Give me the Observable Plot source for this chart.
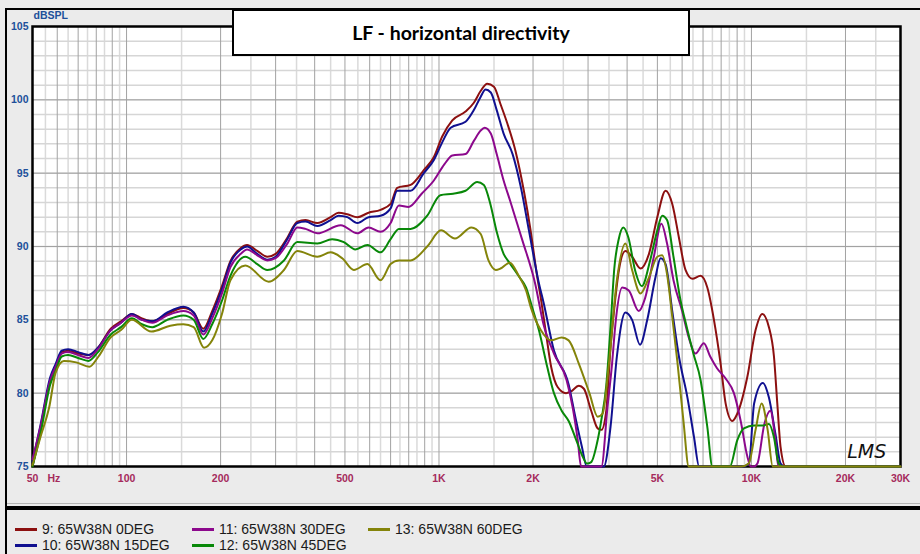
<!DOCTYPE html>
<html><head><meta charset="utf-8">
<script src="https://cdn.jsdelivr.net/npm/d3@7"></script>
<script src="https://cdn.jsdelivr.net/npm/@observablehq/plot@0.6"></script>
<style>
body{margin:0;background:#ebebeb;}
#wrap{position:relative;width:920px;height:554px;background:#ebebeb;overflow:hidden;font-family:"Liberation Sans",Arial,sans-serif;}
#chart{position:absolute;left:0;top:0;}
.bk{position:absolute;background:#000;}
#title{position:absolute;left:232px;top:9px;width:458px;height:47px;box-sizing:border-box;border:2px solid #000;background:#fff;
 font-family:Lato,"Open Sans",sans-serif;font-weight:bold;font-size:19.5px;line-height:43px;text-align:center;color:#000;}
.lg{position:absolute;font-size:14px;color:#1a1a1a;white-space:nowrap;line-height:16px;}
.lg span{display:inline-block;width:22px;height:2.5px;vertical-align:middle;margin-right:5px;position:relative;top:-1px;}
</style></head><body>
<div id="wrap">
<div id="chart"></div>
<div class="bk" style="left:5px;top:8px;width:2px;height:546px"></div>
<div class="bk" style="left:5px;top:8px;width:915px;height:2px"></div>
<div style="position:absolute;left:7px;top:503px;width:913px;height:1px;background:#b5b5b5"></div>
<div class="bk" style="left:5px;top:506px;width:915px;height:4px"></div>
<div id="title"></div>
<div id="legend"></div>
</div>
<script>
// ---- data: [frequency Hz, level dBSPL] ----
const seriesNames = ["9: 65W38N 0DEG","10: 65W38N 15DEG","11: 65W38N 30DEG","12: 65W38N 45DEG","13: 65W38N 60DEG"];
const seriesColors = ["#8c1010","#101090","#8c088c","#088808","#84840a"];

const deg0 = [[50,75],[53,77.5],[57,80.9],[59.3,81.8],[62,82.8],[65,82.9],[70,82.7],[75.5,82.6],[81,83.1],[89,84.4],[96,84.9],[104,85.4],[112,85.1],[121,84.9],[135,85.4],[152,85.8],[164,85.5],[176,84.4],[188,85.6],[202,87.3],[215,89.0],[232,89.9],[243,90.1],[262,89.7],[282,89.3],[300,89.5],[327,90.6],[352,91.7],[374,91.8],[408,91.6],[450,92.0],[477,92.3],[509,92.2],[548,92.0],[595,92.3],[650,92.5],[700,92.9],[735,94.0],[811,94.2],[894,95.2],[963,96.1],[1024,97.5],[1103,98.6],[1216,99.2],[1293,99.8],[1359,100.6],[1427,101.1],[1499,100.9],[1574,99.7],[1654,98.4],[1758,96.5],[1869,93.8],[1964,91.1],[2060,88.0],[2117,86.5],[2200,84.1],[2285,81.8],[2400,80.4],[2550,80.0],[2636,80.1],[2804,80.5],[2909,80.3],[3070,78.8],[3220,77.6],[3310,77.5],[3430,78.8],[3540,83.1],[3640,85.8],[3766,88.4],[3950,89.7],[4150,89.3],[4416,88.5],[4700,89.5],[4997,92.0],[5312,93.8],[5580,92.9],[5861,90.6],[6152,88.4],[6466,87.8],[6874,88.0],[7224,87.2],[7586,85.0],[7969,82.0],[8268,79.3],[8686,78.1],[9011,78.6],[9700,81.1],[10310,84.3],[10833,85.4],[11376,84.5],[11806,82.5],[12100,79.3],[12400,76.3],[12866,75],[13500,73],[30000,73]];

const deg15 = [[50,75.3],[53,77.8],[57,81.1],[59.3,82.0],[62,82.9],[65,83.0],[70,82.8],[75.5,82.6],[81,83.1],[89,84.3],[96,84.8],[104,85.4],[112,85.0],[121,84.9],[135,85.5],[152,85.9],[164,85.5],[176,84.2],[188,85.4],[202,87.1],[215,88.9],[232,89.8],[243,90.0],[262,89.5],[282,89.1],[300,89.3],[327,90.5],[352,91.6],[374,91.7],[408,91.4],[450,91.8],[477,92.1],[509,92.0],[548,91.6],[595,92.0],[650,92.1],[700,92.6],[735,93.8],[811,93.8],[894,95.0],[963,95.9],[1024,97.1],[1090,98.1],[1216,98.5],[1293,99.3],[1359,100.2],[1410,100.7],[1465,100.5],[1530,99.3],[1610,97.7],[1720,96.3],[1830,94.0],[1940,91.1],[2088,87.5],[2160,86.2],[2333,82.9],[2600,80.6],[2730,78.4],[2870,76.3],[2970,75],[3150,73],[3370,75],[3540,77.7],[3710,82.5],[3950,85.5],[4150,85.0],[4400,83.3],[4641,85.0],[4930,87.9],[5120,89.2],[5312,88.8],[5580,85.6],[5861,82.5],[6240,79.7],[6550,77.0],[6800,75],[7200,73],[9400,73],[9820,75.2],[10200,79.3],[10880,80.7],[11376,79.7],[11940,77.2],[12400,75.2],[12800,73],[30000,73]];

const deg30 = [[50,75.5],[53,77.7],[57,80.9],[59.3,81.8],[62,82.7],[65,82.8],[70,82.6],[75.5,82.4],[81,83.0],[89,84.3],[96,84.8],[104,85.3],[112,85.0],[121,84.8],[135,85.3],[152,85.6],[164,85.3],[176,84.0],[188,85.1],[202,86.8],[215,88.6],[232,89.5],[243,89.8],[262,89.4],[282,89.05],[300,89.2],[327,90.2],[352,91.3],[374,91.2],[408,90.9],[485,91.45],[548,90.9],[595,91.3],[650,91.0],[700,91.6],[744,92.8],[800,92.7],[880,93.6],[963,94.5],[1040,95.6],[1103,96.2],[1216,96.3],[1293,97.2],[1359,97.9],[1400,98.1],[1465,97.7],[1530,96.3],[1610,94.5],[1690,93.1],[1780,91.55],[1850,90.4],[2030,87.5],[2160,84.7],[2333,82.7],[2560,80.9],[2680,79.0],[2780,76.8],[2850,75],[3100,73],[3310,75],[3460,79.0],[3580,82.0],[3670,84.7],[3860,87.2],[4050,87.0],[4360,85.6],[4570,86.5],[4871,89.3],[5150,91.55],[5370,90.2],[5630,87.7],[6000,85.6],[6300,83.8],[6620,82.7],[7040,83.4],[7380,82.5],[7760,81.7],[8268,81.0],[8790,80.0],[9240,78.1],[9700,75.7],[9950,75],[10200,74.5],[10450,75.2],[11000,77.9],[11500,78.8],[11900,77.0],[12200,75],[12600,73],[30000,73]];

const deg45 = [[50,75],[53,77.2],[57,80.6],[59.3,81.5],[62,82.5],[65,82.6],[70,82.4],[75.5,82.2],[81,82.8],[89,84.0],[96,84.5],[104,85.1],[112,84.7],[121,84.5],[135,85.0],[152,85.3],[164,85.0],[176,83.7],[188,84.7],[202,86.3],[215,88.0],[240,89.3],[262,88.8],[282,88.4],[319,89.05],[352,90.3],[408,90.2],[455,90.5],[496,90.3],[540,89.8],[590,90.1],[650,89.6],[700,90.5],[744,91.2],[811,91.2],[917,92.1],[1010,93.5],[1110,93.6],[1216,93.8],[1325,94.4],[1392,94.2],[1460,92.9],[1530,91.0],[1610,89.5],[1680,88.9],[1810,87.9],[1900,87.2],[1990,85.8],[2088,84.3],[2220,81.8],[2333,80.0],[2470,78.8],[2600,78.1],[2750,76.8],[2880,75.7],[2980,75.2],[3070,75.3],[3220,76.8],[3310,78.2],[3430,80.5],[3540,84.5],[3640,88.5],[3760,90.5],[3890,91.3],[4040,90.6],[4240,88.4],[4460,87.3],[4740,89.05],[4997,91.1],[5180,92.1],[5370,91.8],[5630,89.3],[5910,86.5],[6210,84.5],[6520,82.7],[6874,80.9],[7224,77.7],[7500,75],[8000,73],[8300,73],[8530,75],[9011,76.8],[9460,77.6],[10190,77.8],[10960,77.8],[11376,77.9],[11806,77.0],[12230,75.2],[12600,73],[30000,73]];

const deg60 = [[50,75.1],[53,77.0],[56.5,79.0],[59.3,81.4],[63,82.2],[69,82.1],[76,81.8],[81.3,82.5],[89,83.8],[96,84.3],[104,85.0],[120,84.2],[138,84.6],[152,84.7],[164,84.5],[177,83.1],[188,83.6],[202,85.4],[215,87.7],[240,88.7],[285,87.6],[319,88.4],[352,89.7],[408,89.3],[450,89.6],[490,89.2],[534,88.4],[590,88.8],[650,87.7],[700,88.8],[744,89.05],[811,89.05],[917,90.0],[1015,91.1],[1125,90.55],[1270,91.3],[1360,90.85],[1440,89.05],[1520,88.4],[1574,88.5],[1685,88.9],[1800,88.0],[1900,87.0],[1964,85.9],[2117,84.3],[2285,83.6],[2470,83.8],[2600,83.6],[2804,82.0],[3030,80.0],[3220,78.4],[3340,78.6],[3490,81.8],[3710,87.7],[3950,90.2],[4150,88.4],[4416,86.8],[4700,87.9],[4997,89.3],[5180,89.4],[5370,88.1],[5580,85.2],[5790,82.2],[6060,78.1],[6300,75],[6700,73],[9300,73],[9800,75.2],[10310,77.5],[10780,79.3],[11270,77.5],[11700,75],[12100,73],[30000,73]];

const allSeries = [deg0, deg15, deg30, deg45, deg60];

const xTicks = [50,100,200,500,1000,2000,5000,10000,20000,30000];
const xTickLabels = ["50","100","200","500","1K","2K","5K","10K","20K","30K"];
const yTicks = [75,80,85,90,95,100,105];
const titleText = "LF - horizontal directivity";
const yUnit = "dBSPL";
const xUnit = "Hz";
const xUnitAt = 55.8;
const signature = "LMS";
const signatureAt = [23400, 76];

// ---- grid positions ----
const majorX = [], minorX = [];
for (let p = 1; p <= 4; p++) for (let k = 1; k <= 9; k++) {
  const a = k * 10 ** p, b = (k + 0.5) * 10 ** p;
  if (a > 50 && a < 30000) majorX.push(a);
  if (b > 50 && b < 30000) minorX.push(b);
}
const minorY = d3.range(76, 105), majorY = [80, 85, 90, 95, 100];

const rows = allSeries.flatMap((s, i) => s.map(([f, db]) => ({f, db, name: seriesNames[i]})));
const xLabelRows = xTicks.map((t, i) => ({t, label: xTickLabels[i]}));

const chart = Plot.plot({
  width: 920, height: 505,
  marginLeft: 32, marginRight: 20, marginTop: 26, marginBottom: 39,
  style: {background: "transparent", fontFamily: "Liberation Sans, Arial, sans-serif", overflow: "visible"},
  x: {type: "log", domain: [50, 30000], axis: null},
  y: {domain: [75, 105], clamp: true},
  color: {domain: seriesNames, range: seriesColors},
  marks: [
    Plot.frame({fill: "white"}),
    Plot.ruleX(minorX, {stroke: "#dadada", strokeWidth: 1.5}),
    Plot.ruleY(minorY, {stroke: "#d6d6d6", strokeWidth: 1.5}),
    Plot.ruleX(majorX, {stroke: "#a2a2a2", strokeWidth: 1}),
    Plot.ruleY(majorY, {stroke: "#a2a2a2", strokeWidth: 1}),
    Plot.frame({stroke: "black", strokeWidth: 2.5}),
    Plot.line(rows, {x: "f", y: "db", z: "name", stroke: "name", strokeWidth: 2, curve: "monotone-x"}),
    Plot.axisY(yTicks, {tickSize: 0, tickPadding: 4, fill: "#20509a", fontWeight: "bold", fontSize: 10.5, label: null}),
    Plot.text(xLabelRows, {x: "t", y: 75, dy: 12, text: "label", fill: "#a52a5c", fontWeight: "bold", fontSize: 10.5}),
    Plot.text([xUnit], {x: xUnitAt, y: 75, dy: 12, text: d => d, textAnchor: "start", fill: "#a52a5c", fontWeight: "bold", fontSize: 10.5}),
    Plot.text([yUnit], {x: 50, y: 105, dy: -11, dx: 1, text: d => d, textAnchor: "start", fill: "#20509a", fontWeight: "bold", fontSize: 10.5}),
    Plot.text([signature], {x: signatureAt[0], y: signatureAt[1], text: d => d, fontSize: 19, fontStyle: "italic", fill: "#111", fontFamily: "DejaVu Sans, sans-serif", letterSpacing: 1})
  ]
});
document.getElementById("chart").appendChild(chart);
document.getElementById("title").textContent = titleText;

// ---- legend ----
const legendPos = [[15,521],[15,537],[192,521],[192,537],[368,521]];
const lg = document.getElementById("legend");
seriesNames.forEach((n, i) => {
  const d = document.createElement("div");
  d.className = "lg";
  d.style.left = legendPos[i][0] + "px";
  d.style.top = legendPos[i][1] + "px";
  d.innerHTML = `<span style="background:${seriesColors[i]}"></span>${n}`;
  lg.appendChild(d);
});
</script>
</body></html>
